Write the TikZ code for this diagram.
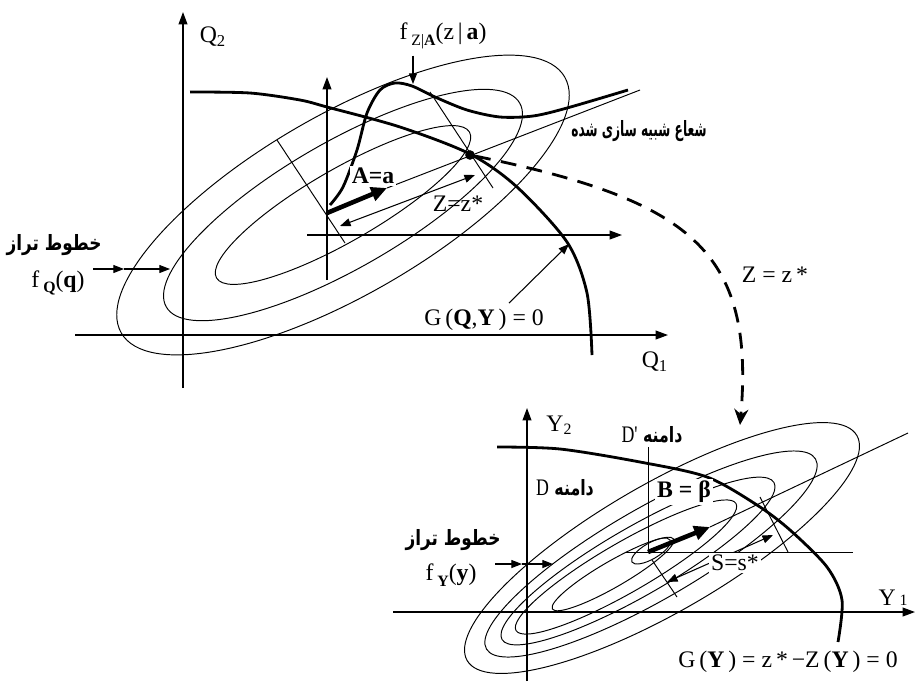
\documentclass[tikz,border=0pt]{standalone}
\usepackage{fontspec}
\usepackage{graphicx}
\setmainfont{Liberation Serif}
\newfontfamily\farsi[Script=Arabic]{DejaVu Sans}
\TeXXeTstate=1
\usetikzlibrary{arrows.meta,calc}
\newcommand{\fa}[2][.8]{\scalebox{#1}[1]{\farsi\bfseries\fontsize{12}{14}\selectfont\beginR #2\endR}}
\newcommand{\lat}[1]{{\normalfont\fontsize{13.5}{15}\selectfont\beginL #1\endL}}
\tikzset{
  contour/.style={line width=.55pt},
  axis/.style={line width=.75pt,-{Triangle[length=7pt,width=5pt]}},
  limit/.style={line width=1.6pt},
  pointer/.style={line width=.6pt,-{Triangle[length=6pt,width=4.5pt]}},
  dimline/.style={line width=.6pt,{Triangle[length=6pt,width=4.5pt]}-{Triangle[length=6pt,width=4.5pt]}},
  thickvec/.style={line width=2.6pt,-{Triangle[length=9pt,width=8pt]}},
}
\begin{document}
\begin{tikzpicture}[x=0.02cm,y=-0.02cm,font=\fontsize{13.5}{15}\selectfont]
  \useasboundingbox (0,0) rectangle (917,681);
  % Q space
  \draw[axis] (75,335) -- (668,335);
  \draw[axis] (183,388) -- (183,12);
  \node (q1lab) at (655,362) {Q\textsubscript{1}};
  \node (q2lab) at (213,37) {Q\textsubscript{2}};
  \coordinate (qc) at (343,205);
  \foreach \ra/\rb in {256/90,204/63,146/36}
    \draw[contour,rotate around={30:(qc)}] (qc) ellipse [x radius=\ra,y radius=\rb];
  \draw[axis] (327,280) -- (327,77);
  \draw[axis] (307,235) -- (622,235);
  \draw[limit] plot[smooth] coordinates {(190,92) (250,93) (300,100) (327,107) (400,127) (470,154) (517,187) (567,242) (587,293) (592,355)};
  \draw[limit] plot[smooth] coordinates {(330,205) (343,187) (357,150) (367,113) (380,90) (395,83) (412,86) (435,97) (467,110) (500,117) (533,116) (567,108) (628,90)};
  \coordinate (ao) at (327,213);
  \coordinate (at) at (387,188);
  \node[circle,fill,inner sep=0pt,minimum size=5.5pt] (dp) at (470,155) {};
  \draw[contour] (at) -- (640,90);
  \draw[thickvec] (ao) -- (at);
  \draw[contour] (277,140) -- (345,243);
  \draw[contour] (430,92) -- (493,188);
  \coordinate (z0) at (340,226);
  \coordinate (z1) at (475,175);
  \draw[dimline] (z0) -- (z1);
  \node[fill=white,inner sep=1pt] (alab) at (373,176) {\textbf{A=a}};
  \node (zlab) at (458,204) {Z=z*};
  \node (raylab) at (639,131) {\fa[.58]{شعاع شبیه سازی شده}};
  \node (fzlab) at (443,36) {f\,\raisebox{-.6ex}{\small Z|\textbf{A}}(z\,|\,\textbf{a})};
  \coordinate (fzpk) at (413,84);
  \draw[pointer] (fzpk |- fzlab.south) -- (fzpk);
  \node (gqlab) at (484,320) {G\,(\textbf{Q},\textbf{Y}\,) = 0};
  \coordinate (gq) at (569,244);
  \draw[pointer] ([xshift=.5cm]gqlab.north) -- (gq);
  \node (lvlq) at (54,245) {\fa{خطوط تراز}};
  \node (fqlab) at (58,283) {f\,\raisebox{-.5ex}{\small\textbf{Q}}(\textbf{q})};
  \coordinate (lq0) at (93,269);
  \coordinate (lq1) at (124,269);
  \coordinate (lq2) at (170,269);
  \draw[pointer] (lq0) -- (lq1);
  \draw[pointer] (lq1) -- (lq2);
  % mapping to Y space
  \coordinate (dend) at (740,425);
  \draw[line width=1.6pt,dash pattern=on 9pt off 6pt,-{Stealth[length=9pt,width=8pt]}] (dp) .. controls (690,200) and (755,250) .. (dend);
  \node (zmaplab) at (775,275) {Z = z\,*};
  % Y space
  \draw[axis] (393,612) -- (915,612);
  \draw[axis] (527,681) -- (527,408);
  \node (y1lab) at (893,598) {Y\,{\small 1}};
  \node (y2lab) at (559,425) {Y\raisebox{-.3ex}{\small 2}};
  \foreach \cx/\cy/\ra/\rb in {662/548/225/64,651/554/190/46,638/561/157/34,626/567/127/25,613/574/70/13,651/551/22/8}
    \draw[contour,rotate around={30:(\cx,\cy)}] (\cx,\cy) ellipse [x radius=\ra,y radius=\rb];
  \draw[limit] plot[smooth] coordinates {(497,447) (560,449) (640,462) (707,477) (757,505) (790,530) (827,567) (842,600) (838,642)};
  \draw[contour] (648,447) -- (648,553);
  \draw[contour] (625,552) -- (853,552);
  \coordinate (bo) at (648,552);
  \coordinate (bt) at (710,527);
  \draw[contour] (bt) -- (908,433);
  \draw[thickvec] (bo) -- (bt);
  \draw[contour] (652,560) -- (677,597);
  \draw[contour] (760,497) -- (788,552);
  \coordinate (s0) at (667,582);
  \coordinate (s1) at (773,535);
  \draw[dimline] (s0) -- (s1);
  \node[fill=white,inner sep=1pt] (slab) at (735,563) {S=s*};
  \node[fill=white,inner sep=1pt] (blab) at (684,492) {\textbf{B = β}};
  \node (dplab) at (652,435) {\fa[.75]{دامنه \lat{D\textquotesingle}}};
  \node (dlab) at (565,488) {\fa[.75]{دامنه \lat{D}}};
  \node (lvly) at (453,540) {\fa{خطوط تراز}};
  \node (fylab) at (451,575) {f\,\raisebox{-.5ex}{\small\textbf{Y}}(\textbf{y})};
  \coordinate (ly0) at (495,564);
  \coordinate (ly1) at (522,564);
  \coordinate (ly2) at (553,564);
  \draw[pointer] (ly0) -- (ly1);
  \draw[pointer] (ly1) -- (ly2);
  \node (gylab) at (788,662) {G\,(\textbf{Y}\,) = z\,*\,−Z\,(\textbf{Y}\,) = 0};
\end{tikzpicture}
\end{document}
